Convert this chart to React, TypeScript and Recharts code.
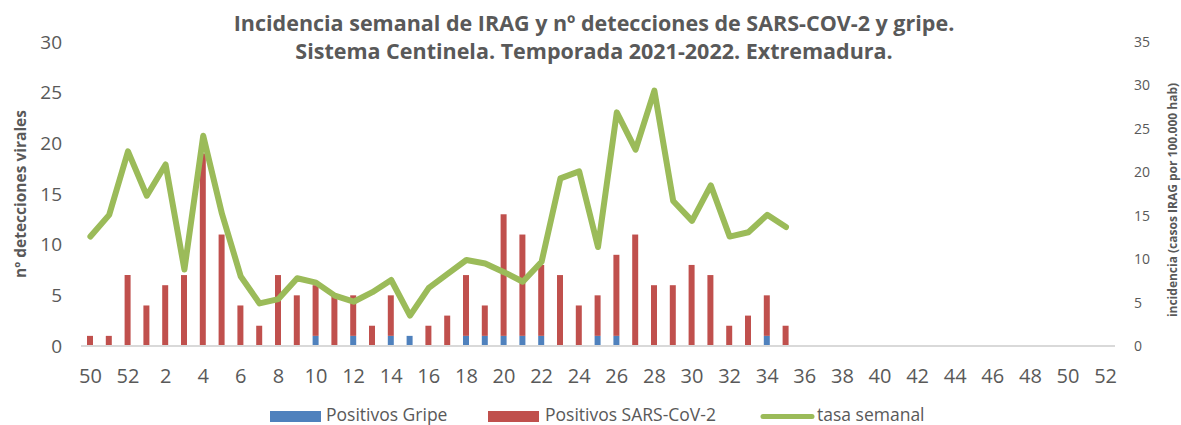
import { ComposedChart, Bar, Line, XAxis, YAxis } from "recharts"

const weeks = [
  "50", "51", "52", "1", "2", "3", "4", "5", "6", "7", "8", "9", "10", "11", "12", "13", "14", "15",
  "16", "17", "18", "19", "20", "21", "22", "23", "24", "25", "26", "27", "28", "29", "30", "31", "32",
  "33", "34", "35", "36", "37", "38", "39", "40", "41", "42", "43", "44", "45", "46", "47", "48", "49",
  "50", "51", "52",
]

// detecciones (eje izq.), semanas 50..35; resto sin datos
const gripe = [
  0, 0, 0, 0, 0, 0, 0, 0, 0, 0, 0, 0, 1, 0, 1, 0, 1, 1,
  0, 0, 1, 1, 1, 1, 1, 0, 0, 1, 1, 0, 0, 0, 0, 0, 0,
  0, 1, 0,
]
const sarsCov2 = [
  1, 1, 7, 4, 6, 7, 19, 11, 4, 2, 7, 5, 5, 5, 4, 2, 4, 0,
  2, 3, 6, 3, 12, 10, 7, 7, 4, 4, 8, 11, 6, 6, 8, 7, 2,
  3, 4, 2,
]
// tasa semanal (eje dcho.)
const tasa = [
  12.6, 15.1, 22.4, 17.3, 20.9, 8.8, 24.2, 15.2, 8.0, 4.9, 5.4, 7.8, 7.3, 5.8, 5.1, 6.2, 7.6, 3.5,
  6.7, 8.3, 9.9, 9.5, 8.5, 7.4, 9.7, 19.3, 20.1, 11.4, 26.9, 22.6, 29.4, 16.7, 14.4, 18.5, 12.6,
  13.1, 15.1, 13.7,
]

const leftTicks = [0, 5, 10, 15, 20, 25, 30]
const rightTicks = [0, 5, 10, 15, 20, 25, 30, 35]

const data = weeks.map((w, i) => ({
  week: w,
  gripe: i < gripe.length ? gripe[i] : null,
  sars: i < sarsCov2.length ? sarsCov2[i] : null,
  tasa: i < tasa.length ? tasa[i] : null,
}))

const FONT = "'Open Sans', sans-serif"
const GREY = "#595959"
const BLUE = "#4F81BD"
const RED = "#C0504D"
const GREEN = "#9BBB59"

export default function App() {
  return (
    <div style={{ position: "relative", width: 1181, height: 425, fontFamily: FONT }}>
      <style>{`body{margin:0}`}</style>
      <ComposedChart width={1181} height={425} data={data} margin={{ top: 42, right: 0, bottom: 0, left: 0 }}>
        <XAxis
          dataKey="week"
          interval={1}
          height={79}
          tickLine={false}
          tickSize={0}
          tickMargin={23}
          axisLine={{ stroke: "#D9D9D9", strokeWidth: 2 }}
          tick={{ fill: GREY, fontSize: 20, fontFamily: FONT }}
        />
        <YAxis
          yAxisId="left"
          width={81}
          domain={[0, 30]}
          ticks={leftTicks}
          axisLine={false}
          tickLine={false}
          tickSize={0}
          tickMargin={19}
          tick={{ fill: GREY, fontSize: 19, fontFamily: FONT }}
        />
        <YAxis
          yAxisId="right"
          orientation="right"
          width={66}
          domain={[0, 35]}
          ticks={rightTicks}
          axisLine={false}
          tickLine={false}
          tickSize={0}
          tickMargin={19}
          tick={{ fill: GREY, fontSize: 14, fontFamily: FONT, textAnchor: "start" }}
        />
        <Bar yAxisId="left" dataKey="gripe" stackId="a" fill={BLUE} barSize={6} isAnimationActive={false} />
        <Bar yAxisId="left" dataKey="sars" stackId="a" fill={RED} barSize={6} isAnimationActive={false} />
        <Line
          yAxisId="right"
          dataKey="tasa"
          type="linear"
          stroke={GREEN}
          strokeWidth={6}
          strokeLinejoin="round"
          strokeLinecap="round"
          dot={false}
          activeDot={false}
          isAnimationActive={false}
        />
      </ComposedChart>

      <svg width={1181} height={425} style={{ position: "absolute", left: 0, top: 0, pointerEvents: "none" }}>
        <g fill={GREY} fontFamily={FONT} fontWeight="bold" fontSize={21.5} textAnchor="middle">
          <text x={594} y={31}>Incidencia semanal de IRAG y nº detecciones de SARS-COV-2 y gripe.</text>
          <text x={594} y={59}>Sistema Centinela. Temporada 2021-2022. Extremadura.</text>
        </g>
        <text
          x={20}
          y={194}
          transform="rotate(-90 20 194)"
          textAnchor="middle"
          dominantBaseline="central"
          fill={GREY}
          fontFamily={FONT}
          fontWeight="bold"
          fontSize={15.5}
        >
          nº detecciones virales
        </text>
        <text
          x={1172}
          y={200}
          transform="rotate(-90 1172 200)"
          textAnchor="middle"
          dominantBaseline="central"
          fill={GREY}
          fontFamily={FONT}
          fontWeight="bold"
          fontSize={12}
        >
          incidencia (casos IRAG por 100.000 hab)
        </text>
        <g fontFamily={FONT} fontSize={17.5} fill={GREY}>
          <rect x={270} y={411} width={51} height={11} fill={BLUE} />
          <text x={326} y={420.5}>Positivos Gripe</text>
          <rect x={488} y={411} width={51} height={11} fill={RED} />
          <text x={545} y={420.5}>Positivos SARS-CoV-2</text>
          <line x1={763} y1={416.5} x2={812} y2={416.5} stroke={GREEN} strokeWidth={5} strokeLinecap="round" />
          <text x={817} y={420.5}>tasa semanal</text>
        </g>
      </svg>
    </div>
  )
}
